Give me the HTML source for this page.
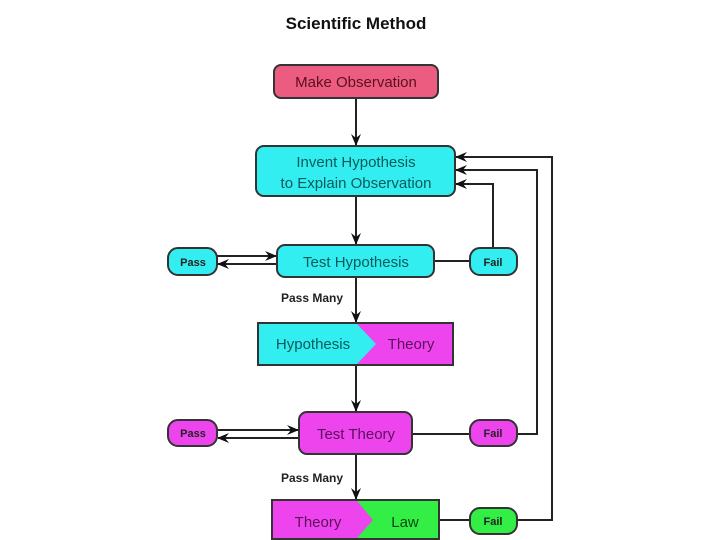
<!DOCTYPE html>
<html><head><style>
body{margin:0;background:#fff;}
svg{display:block;font-family:"Liberation Sans",Arial,sans-serif;}
</style></head><body>
<svg width="720" height="540" viewBox="0 0 720 540">
<defs>
<marker id="a" markerWidth="12" markerHeight="10" refX="11" refY="5" orient="auto" markerUnits="userSpaceOnUse">
<path d="M0,0 L12,5 L0,10 L4,5 Z" fill="#111"/></marker>
</defs>
<text x="356" y="29" text-anchor="middle" font-size="17" font-weight="bold" fill="#111">Scientific Method</text>
<g stroke="#222" stroke-width="2" fill="none">
<line x1="356" y1="98" x2="356" y2="145" marker-end="url(#a)"/>
<line x1="356" y1="196" x2="356" y2="244" marker-end="url(#a)"/>
<line x1="356" y1="277" x2="356" y2="322" marker-end="url(#a)"/>
<line x1="356" y1="365" x2="356" y2="411" marker-end="url(#a)"/>
<line x1="356" y1="454" x2="356" y2="499" marker-end="url(#a)"/>
<line x1="217" y1="256" x2="276" y2="256" marker-end="url(#a)"/>
<line x1="277" y1="264" x2="218" y2="264" marker-end="url(#a)"/>
<line x1="217" y1="430" x2="298" y2="430" marker-end="url(#a)"/>
<line x1="299" y1="438" x2="218" y2="438" marker-end="url(#a)"/>
<line x1="434" y1="261" x2="470" y2="261"/>
<polyline points="493,248 493,184 456,184" marker-end="url(#a)"/>
<line x1="412" y1="434" x2="470" y2="434"/>
<polyline points="517,434 537,434 537,170 456,170" marker-end="url(#a)"/>
<line x1="439" y1="520" x2="470" y2="520"/>
<polyline points="517,520 552,520 552,157 456,157" marker-end="url(#a)"/>
</g>
<g stroke="#333" stroke-width="2">
<rect x="274" y="65" width="164" height="33" rx="7" fill="#ec5c80"/>
<rect x="256" y="146" width="199" height="50" rx="8" fill="#33eef0"/>
<rect x="277" y="245" width="157" height="32" rx="8" fill="#33eef0"/>
<rect x="168" y="248" width="49" height="27" rx="10" fill="#33eef0"/>
<rect x="470" y="248" width="47" height="27" rx="10" fill="#33eef0"/>
<rect x="258" y="323" width="195" height="42" fill="#ee44ee"/>
<polygon points="259,324 357,324 376,344 357,364 259,364" fill="#33eef0" stroke="none"/>
<rect x="299" y="412" width="113" height="42" rx="8" fill="#ee44ee"/>
<rect x="168" y="420" width="49" height="26" rx="10" fill="#ee44ee"/>
<rect x="470" y="420" width="47" height="26" rx="10" fill="#ee44ee"/>
<rect x="272" y="500" width="167" height="39" fill="#33ee44"/>
<polygon points="273,501 357,501 373,520 357,538 273,538" fill="#ee44ee" stroke="none"/>
<rect x="470" y="508" width="47" height="26" rx="10" fill="#33ee44"/>
</g>
<g font-size="15" text-anchor="middle">
<text x="356" y="87" fill="#5a1020">Make Observation</text>
<text x="356" y="167" fill="#0a5a5a">Invent Hypothesis</text>
<text x="356" y="188" fill="#0a5a5a">to Explain Observation</text>
<text x="356" y="267" fill="#0a5a5a">Test Hypothesis</text>
<text x="313" y="349" fill="#0a5a5a">Hypothesis</text>
<text x="411" y="349" fill="#5a105a">Theory</text>
<text x="356" y="439" fill="#5a105a">Test Theory</text>
<text x="318" y="527" fill="#5a105a">Theory</text>
<text x="405" y="527" fill="#0a4a10">Law</text>
</g>
<g font-size="11" font-weight="bold" text-anchor="middle" fill="#222">
<text x="193" y="266">Pass</text>
<text x="493" y="266">Fail</text>
<text x="193" y="437">Pass</text>
<text x="493" y="437">Fail</text>
<text x="493" y="525">Fail</text>
<text x="312" y="302" font-size="12">Pass Many</text>
<text x="312" y="482" font-size="12">Pass Many</text>
</g>
</svg>
</body></html>
